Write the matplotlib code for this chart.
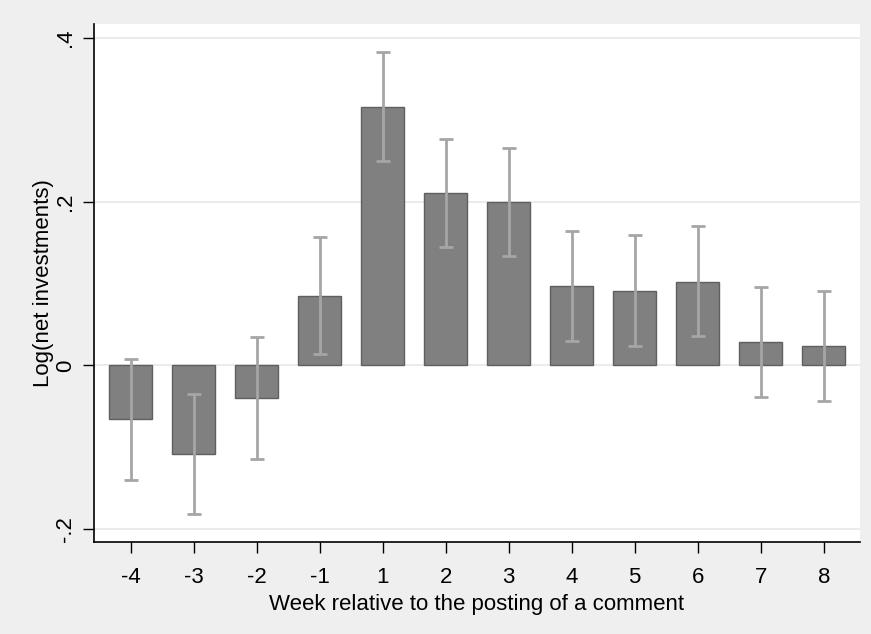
import numpy as np
import matplotlib
matplotlib.use("Agg")
from matplotlib import pyplot as plt

weeks = ["-4", "-3", "-2", "-1", "1", "2", "3", "4", "5", "6", "7", "8"]
coef = [-0.066, -0.108, -0.0395, 0.085, 0.316, 0.210, 0.199, 0.097, 0.0905, 0.102, 0.028, 0.023]
ci_low = [-0.140, -0.182, -0.114, 0.014, 0.250, 0.144, 0.133, 0.030, 0.023, 0.0355, -0.0387, -0.044]
ci_high = [0.0073, -0.035, 0.034, 0.157, 0.383, 0.276, 0.266, 0.164, 0.1587, 0.170, 0.0963, 0.0905]

plt.rcParams['font.family'] = ['Liberation Sans Narrow', 'Liberation Sans', 'DejaVu Sans']

fig = plt.figure(figsize=(8.71, 6.34), dpi=100, facecolor='#efefef')
ax = fig.add_axes([0.108, 0.145, 0.879, 0.817])
ax.set_facecolor('white')

x = np.arange(len(weeks))
coef = np.array(coef)
lo = coef - np.array(ci_low)
hi = np.array(ci_high) - coef

ax.bar(x, coef, width=0.69, color='#808080', edgecolor='#5f5f5f', linewidth=1.0, zorder=2)
ax.errorbar(x, coef, yerr=[lo, hi], fmt='none', ecolor='#a6a6a6', elinewidth=2,
            capsize=5, capthick=2, zorder=3)

ax.set_xlim(-0.58, 11.57)
ax.set_ylim(-0.216, 0.417)
ax.set_yticks([-0.2, 0, 0.2, 0.4])
ax.set_yticklabels(['-.2', '0', '.2', '.4'], rotation=90, va='center')
ax.set_xticks(x)
ax.set_xticklabels(weeks)
ax.grid(axis='y', color='#e8e8e8', linewidth=1.2, zorder=0)
ax.set_axisbelow(True)

for s in ['top', 'right']:
    ax.spines[s].set_visible(False)
for s in ['left', 'bottom']:
    ax.spines[s].set_linewidth(1.2)

ax.tick_params(axis='both', direction='out', length=8, width=1, labelsize=16)
ax.tick_params(axis='x', pad=10)
ax.tick_params(axis='y', pad=5)
ax.set_xlabel("Week relative to the posting of a comment", fontsize=16, labelpad=4)
ax.set_ylabel("Log(net investments)", fontsize=16, labelpad=1)

fig.savefig("out.png", dpi=100, facecolor=fig.get_facecolor())
